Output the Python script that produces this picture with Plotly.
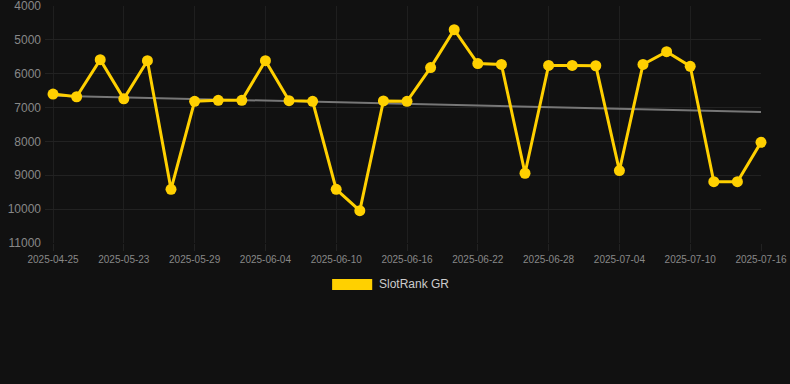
import numpy as np
import plotly.graph_objects as go

dates = ["2025-04-25", "2025-05-19", "2025-05-21", "2025-05-23", "2025-05-25", "2025-05-27",
         "2025-05-29", "2025-05-31", "2025-06-02", "2025-06-04", "2025-06-06", "2025-06-08",
         "2025-06-10", "2025-06-12", "2025-06-14", "2025-06-16", "2025-06-18", "2025-06-20",
         "2025-06-22", "2025-06-24", "2025-06-26", "2025-06-28", "2025-06-30", "2025-07-02",
         "2025-07-04", "2025-07-06", "2025-07-08", "2025-07-10", "2025-07-12", "2025-07-14",
         "2025-07-16"]
ranks = [6600, 6680, 5585, 6740, 5615, 9415, 6815, 6785, 6785, 5615, 6795, 6815,
         9415, 10045, 6805, 6815, 5820, 4700, 5700, 5725, 8940, 5755, 5755, 5765,
         8860, 5725, 5350, 5780, 9190, 9190, 8025]
y_ticks = [4000, 5000, 6000, 7000, 8000, 9000, 10000, 11000]
tick_labels = dates[::3]
series_name = "SlotRank GR"

idx = np.arange(len(ranks))
slope, intercept = np.polyfit(idx, ranks, 1)
trend = slope * idx + intercept

fig = go.Figure()
fig.add_trace(go.Scatter(x=idx, y=trend, mode="lines",
                         line=dict(color="#777777", width=2), hoverinfo="skip",
                         showlegend=False))
fig.add_trace(go.Scatter(x=idx, y=ranks, mode="lines+markers", name=series_name,
                         line=dict(color="#FFD000", width=3),
                         marker=dict(color="#FFD000", size=11),
                         cliponaxis=False, showlegend=False))

fig.add_shape(type="rect", xref="paper", yref="paper",
              x0=0.401, x1=0.457, y0=-0.198, y1=-0.152,
              fillcolor="#FFD000", line=dict(width=0))
fig.add_annotation(xref="paper", yref="paper", x=0.464, y=-0.175,
                   text=series_name, showarrow=False, xanchor="left", yanchor="middle",
                   font=dict(color="#CCCCCC", size=12, family="Arial, Liberation Sans, sans-serif"))

fig.update_layout(
    width=790, height=384,
    paper_bgcolor="#111111", plot_bgcolor="#111111",
    margin=dict(l=45, r=29, t=6, b=141),
    font=dict(family="Arial, Liberation Sans, sans-serif"),
    xaxis=dict(range=[-0.34, 30], tickmode="array", tickvals=idx[::3], ticktext=tick_labels,
               showgrid=True, gridcolor="#1f1f1f", zeroline=False, showline=False,
               ticks="outside", ticklen=7, tickcolor="#222222", automargin=False,
               tickfont=dict(color="#888888", size=10)),
    yaxis=dict(range=[11000, 4000], tickmode="array", tickvals=y_ticks,
               ticktext=[str(v) for v in y_ticks], automargin=False,
               showgrid=True, gridcolor="#222222", zeroline=False, showline=False,
               ticks="", ticklabelstandoff=3, ticklabeloverflow="allow",
               tickfont=dict(color="#888888", size=12)),
    showlegend=False,
)

fig.write_html("out.html", config={"displayModeBar": False},
               post_script="document.body.style.margin='0';document.body.style.background='#111111';")
